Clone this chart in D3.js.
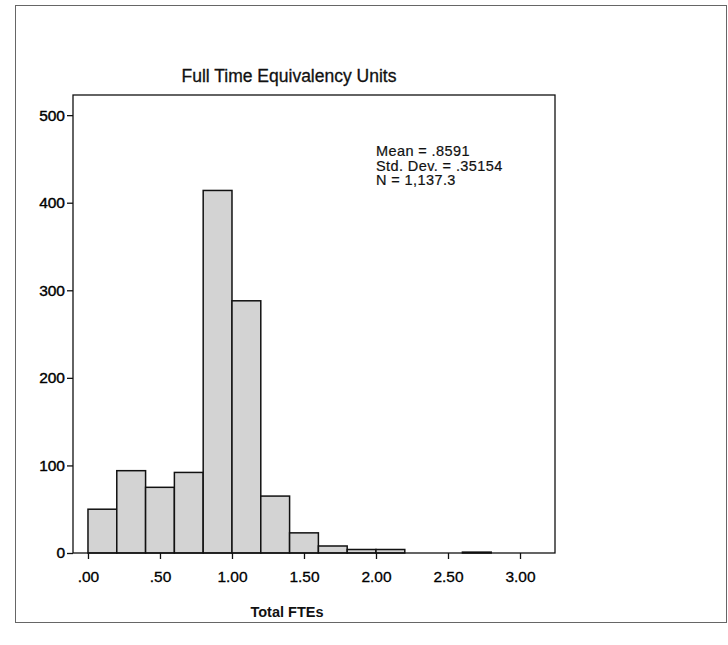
<!DOCTYPE html>
<html>
<head>
<meta charset="utf-8">
<script src="https://cdn.jsdelivr.net/npm/d3@7"></script>
<style>
  body { margin: 0; background: #fff; }
  svg { display: block; font-family: Arial, "Liberation Sans", sans-serif; }
</style>
</head>
<body>
<svg id="chart" width="728" height="645"></svg>
<script>
// histogram bins of Total FTEs (width .20)
const bin_starts = [0.0, 0.2, 0.4, 0.6, 0.8, 1.0, 1.2, 1.4, 1.6, 1.8, 2.0, 2.6];
const bin_counts = [50, 94, 75, 92, 414, 288, 65, 23, 8, 4, 4, 1];
const bin_width = 0.2;

const x_ticks = [0, 0.5, 1, 1.5, 2, 2.5, 3];
const x_tick_labels = [".00", ".50", "1.00", "1.50", "2.00", "2.50", "3.00"];
const y_ticks = [0, 100, 200, 300, 400, 500];

const stats_lines = ["Mean = .8591", "Std. Dev. = .35154", "N = 1,137.3"];

const svg = d3.select("#chart");

// outer frame of the scanned page
svg.append("rect")
    .attr("x", 15.5).attr("y", 5.5)
    .attr("width", 711).attr("height", 617)
    .attr("fill", "none")
    .attr("stroke", "#666")
    .attr("stroke-width", 1);

const plot = { left: 73, top: 95, right: 555, bottom: 553 };

const x = d3.scaleLinear()
    .domain([-0.104, 3.243])
    .range([plot.left, plot.right]);

const y = d3.scaleLinear()
    .domain([0, 523])
    .range([plot.bottom, plot.top]);

svg.append("text")
    .attr("x", 289).attr("y", 82)
    .attr("text-anchor", "middle")
    .attr("font-size", 17.5)
    .attr("fill", "#111")
    .attr("stroke", "#111").attr("stroke-width", 0.3)
    .text("Full Time Equivalency Units");

// bars
svg.append("g")
    .selectAll("rect")
    .data(bin_starts.map((s, i) => ({ start: s, count: bin_counts[i] })))
    .join("rect")
    .attr("x", d => x(d.start))
    .attr("y", d => y(d.count))
    .attr("width", d => x(d.start + bin_width) - x(d.start))
    .attr("height", d => y(0) - y(d.count))
    .attr("fill", "#d3d3d3")
    .attr("stroke", "#111")
    .attr("stroke-width", 1.5);

// plot frame
svg.append("rect")
    .attr("x", plot.left).attr("y", plot.top)
    .attr("width", plot.right - plot.left)
    .attr("height", plot.bottom - plot.top)
    .attr("fill", "none")
    .attr("stroke", "#111")
    .attr("stroke-width", 1.3);

const y_axis = svg.append("g")
    .attr("transform", `translate(${plot.left},0)`)
    .call(d3.axisLeft(y).tickValues(y_ticks).tickSize(6).tickPadding(2));
y_axis.select(".domain").remove();
y_axis.selectAll("text")
    .attr("font-size", 15.5)
    .attr("font-family", "Arial, 'Liberation Sans', sans-serif")
    .attr("fill", "#000").attr("stroke", "#000").attr("stroke-width", 0.4);
y_axis.selectAll("line").attr("stroke", "#111").attr("stroke-width", 1.3);

const x_axis = svg.append("g")
    .attr("transform", `translate(0,${plot.bottom})`)
    .call(d3.axisBottom(x).tickValues(x_ticks)
        .tickFormat((d, i) => x_tick_labels[i])
        .tickSize(6).tickPadding(12));
x_axis.select(".domain").remove();
x_axis.selectAll("text")
    .attr("font-size", 15.5)
    .attr("font-family", "Arial, 'Liberation Sans', sans-serif")
    .attr("fill", "#000").attr("stroke", "#000").attr("stroke-width", 0.3);
x_axis.selectAll("line").attr("stroke", "#111").attr("stroke-width", 1.3);

svg.append("text")
    .attr("x", 287).attr("y", 617)
    .attr("text-anchor", "middle")
    .attr("font-size", 14.5)
    .attr("font-weight", "bold")
    .attr("fill", "#111")
    .text("Total FTEs");

svg.append("g")
    .selectAll("text")
    .data(stats_lines)
    .join("text")
    .attr("x", 376)
    .attr("y", (d, i) => 156 + i * 14.5)
    .attr("font-size", 14.5)
    .attr("letter-spacing", 0.4)
    .attr("fill", "#111")
    .attr("stroke", "#111").attr("stroke-width", 0.2)
    .text(d => d);
</script>
</body>
</html>
